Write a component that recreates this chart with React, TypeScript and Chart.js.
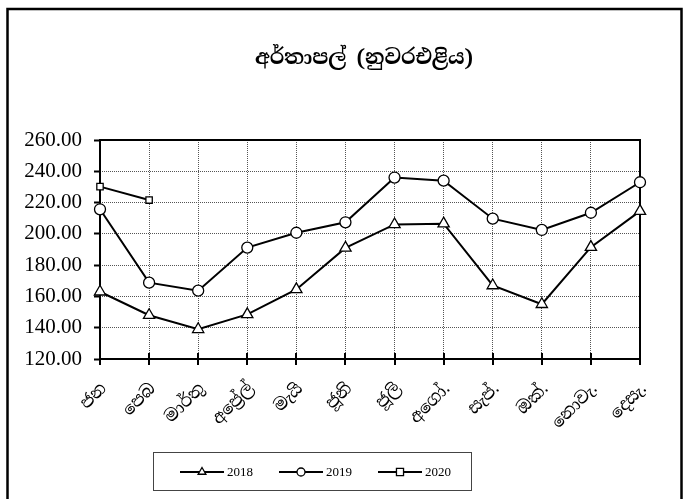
import React, { useEffect, useRef } from "react";
import { Chart, registerables } from "chart.js";

Chart.register(...registerables);

const TITLE = "අර්තාපල් (නුවරඑළිය)";
const MONTHS = ["ජන", "පෙබ", "මාර්තු", "අප්‍රේල්", "මැයි", "ජූනි", "ජූලි", "අගෝ.", "සැප්.", "ඔක්.", "නොවැ.", "දෙසැ."];
const SERIES_NAMES = ["2018", "2019", "2020"];
const VALUES_2018 = [163, 148, 139, 148.5, 164.5, 191, 206, 206.5, 167, 155, 191.5, 214.5];
const VALUES_2019 = [215.7, 168.8, 163.7, 191.2, 200.7, 207.4, 236, 234, 209.7, 202.5, 213.5, 233];
const VALUES_2020 = [230.2, 221.6, null, null, null, null, null, null, null, null, null, null];
const Y_MIN = 120;
const Y_MAX = 260;
const Y_STEP = 20;

const SERIF = "'Liberation Serif', 'Times New Roman', serif";
const SINHALA = "'Noto Serif Sinhala', 'Noto Sans Sinhala', 'Iskoola Pota', 'Liberation Serif', serif";

function drawMarker(ctx: CanvasRenderingContext2D, style: string, x: number, y: number, r: number) {
  ctx.beginPath();
  if (style === "triangle") {
    let rad = 0;
    ctx.moveTo(x + Math.sin(rad) * r, y - Math.cos(rad) * r);
    rad += (2 * Math.PI) / 3;
    ctx.lineTo(x + Math.sin(rad) * r, y - Math.cos(rad) * r);
    rad += (2 * Math.PI) / 3;
    ctx.lineTo(x + Math.sin(rad) * r, y - Math.cos(rad) * r);
    ctx.closePath();
  } else if (style === "rect") {
    const s = r * Math.SQRT1_2;
    ctx.rect(x - s, y - s, 2 * s, 2 * s);
  } else {
    ctx.arc(x, y, r, 0, Math.PI * 2);
  }
  ctx.fillStyle = "#fff";
  ctx.fill();
  ctx.lineWidth = 1.3;
  ctx.strokeStyle = "#000";
  ctx.stroke();
}

const framePlugin = {
  id: "framePlugin",
  beforeDraw(chart: any) {
    const ctx = chart.ctx as CanvasRenderingContext2D;
    ctx.save();
    ctx.fillStyle = "#fff";
    ctx.fillRect(0, 0, chart.width, chart.height);
    ctx.strokeStyle = "#000";
    ctx.lineWidth = 2.5;
    ctx.strokeRect(7.5, 9, 674, 520);
    ctx.fillStyle = "#000";
    ctx.font = `bold 20.5px ${SINHALA}`;
    ctx.textAlign = "center";
    ctx.textBaseline = "middle";
    ctx.fillText(TITLE, 364, 59);
    ctx.restore();
  },
  beforeDatasetsDraw(chart: any) {
    const ctx = chart.ctx as CanvasRenderingContext2D;
    const a = chart.chartArea;
    ctx.save();
    ctx.strokeStyle = "#000";
    ctx.lineWidth = 2;
    ctx.strokeRect(a.left, a.top, a.right - a.left, a.bottom - a.top);
    const xs = chart.scales.x;
    ctx.beginPath();
    for (let i = 0; i < xs.ticks.length; i++) {
      const px = Math.round(xs.getPixelForTick(i));
      ctx.moveTo(px, a.bottom - 6);
      ctx.lineTo(px, a.bottom + 6);
    }
    ctx.stroke();
    ctx.restore();
  },
  afterDraw(chart: any) {
    const ctx = chart.ctx as CanvasRenderingContext2D;
    ctx.save();
    ctx.strokeStyle = "#444";
    ctx.lineWidth = 1;
    ctx.strokeRect(153.5, 452.5, 318, 38);
    const starts = [180, 279, 378];
    const y = 472;
    chart.data.datasets.forEach((ds: any, i: number) => {
      const x1 = starts[i];
      const x2 = x1 + 44;
      ctx.beginPath();
      ctx.strokeStyle = "#000";
      ctx.lineWidth = 2;
      ctx.moveTo(x1, y);
      ctx.lineTo(x2, y);
      ctx.stroke();
      const r = ds.pointStyle === "rect" ? 5 : ds.pointStyle === "triangle" ? 4.5 : 4;
      drawMarker(ctx, ds.pointStyle, (x1 + x2) / 2, y, r);
      ctx.fillStyle = "#000";
      ctx.font = `13px ${SERIF}`;
      ctx.textAlign = "left";
      ctx.textBaseline = "middle";
      ctx.fillText(ds.label, x2 + 3, y + 1);
    });
    ctx.restore();
  },
};

export default function App() {
  const ref = useRef<HTMLCanvasElement | null>(null);
  useEffect(() => {
    document.body.style.margin = "0";
    const canvas = ref.current!;
    const mk = (label: string, data: (number | null)[], style: string, r: number) => ({
      label,
      data,
      pointStyle: style,
      pointRadius: r,
      pointHoverRadius: r,
      pointBackgroundColor: "#fff",
      pointBorderColor: "#000",
      pointBorderWidth: 1.3,
      borderColor: "#000",
      borderWidth: 2,
      backgroundColor: "#fff",
      fill: false,
      tension: 0,
      spanGaps: false,
    });
    const chart = new Chart(canvas, {
      type: "line",
      data: {
        labels: MONTHS,
        datasets: [
          mk(SERIES_NAMES[0], VALUES_2018, "triangle", 6.5),
          mk(SERIES_NAMES[1], VALUES_2019, "circle", 5.5),
          mk(SERIES_NAMES[2], VALUES_2020, "rect", 4.5),
        ],
      },
      options: {
        animation: false,
        responsive: false,
        maintainAspectRatio: false,
        layout: { padding: { top: 140, left: 0, right: 48, bottom: 50 } },
        plugins: { legend: { display: false }, title: { display: false }, tooltip: { enabled: false } },
        scales: {
          x: {
            type: "category",
            offset: false,
            afterFit(scale: any) {
              scale.height = 90;
            },
            border: { display: false, dash: [1, 1] },
            grid: {
              color: "#555",
              lineWidth: 1,
              tickLength: 6,
              tickColor: "#000",
              tickWidth: 2,
              drawTicks: false,
            },
            ticks: {
              autoSkip: false,
              minRotation: 45,
              maxRotation: 45,
              padding: 20,
              labelOffset: 4,
              color: "#000",
              font: { size: 17, family: SINHALA },
            },
          },
          y: {
            min: Y_MIN,
            max: Y_MAX,
            afterFit(scale: any) {
              scale.width = 100;
            },
            border: { display: false, dash: [1, 1] },
            grid: {
              color: "#555",
              lineWidth: 1,
              tickLength: 6,
              tickColor: "#000",
              tickWidth: 2,
              tickBorderDash: [],
            },
            ticks: {
              stepSize: Y_STEP,
              padding: 12,
              color: "#000",
              font: { size: 21, family: SERIF },
              callback: (v: any) => Number(v).toFixed(2),
            },
          },
        },
      },
      plugins: [framePlugin],
    });
    return () => chart.destroy();
  }, []);
  return <canvas ref={ref} width={688} height={499} style={{ display: "block" }} />;
}
